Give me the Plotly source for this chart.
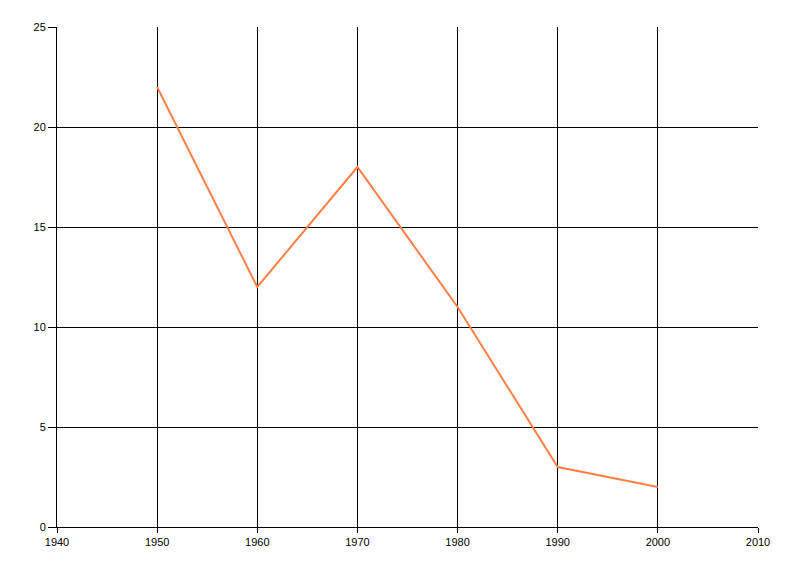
import plotly.graph_objects as go

years = [1950, 1960, 1970, 1980, 1990, 2000]
values = [22, 12, 18, 11, 3, 2]

fig = go.Figure()
fig.add_trace(go.Scatter(x=years, y=values, mode="lines",
                         line=dict(color="#FF7F45", width=2), showlegend=False))

axis_common = dict(showgrid=True, gridcolor="black", gridwidth=1,
                   showline=True, linecolor="black", linewidth=1,
                   ticks="outside", tickcolor="black", tickwidth=1,
                   zeroline=False,
                   tickfont=dict(family="Liberation Sans, Arial", size=11, color="black"))

fig.update_xaxes(range=[1940, 2010], tickvals=[1940, 1950, 1960, 1970, 1980, 1990, 2000, 2010],
                 ticklen=5, **axis_common)
fig.update_yaxes(range=[0, 25], tickvals=[0, 5, 10, 15, 20, 25], ticklen=8, **axis_common)

fig.update_layout(width=800, height=576, plot_bgcolor="white", paper_bgcolor="white",
                  margin=dict(l=49, r=50, t=19, b=57))

fig.write_html("out.html")
